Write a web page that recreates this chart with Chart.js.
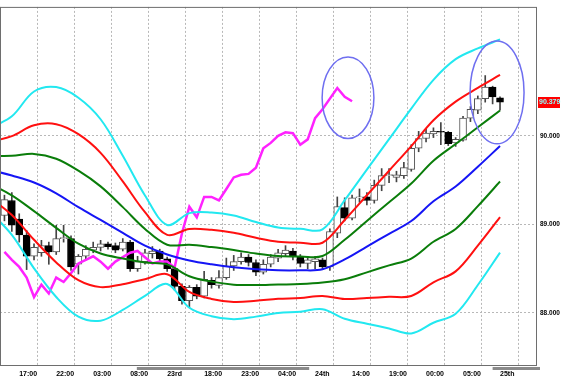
<!DOCTYPE html>
<html>
<head>
<meta charset="utf-8">
<script src="https://cdn.jsdelivr.net/npm/chart.js@4.4.0/dist/chart.umd.min.js"></script>
<style>
  html, body { margin: 0; padding: 0; background: #fff; }
  canvas { display: block; }
</style>
</head>
<body>
<canvas id="chart" width="564" height="380"></canvas>
<script>
// hourly candles, index 0 = first bar on the left
const opens = [
  89.10, 89.27, 89.06, 88.88, 88.64, 88.68, 88.76, 88.69, 88.84, 88.84,
  88.55, 88.64, 88.71, 88.74, 88.78, 88.76, 88.72, 88.80, 88.50, 88.58,
  88.67, 88.70, 88.61, 88.50, 88.30, 88.14, 88.29, 88.19, 88.37, 88.31,
  88.40, 88.53, 88.58, 88.63, 88.57, 88.46, 88.55, 88.62, 88.67, 88.70,
  88.63, 88.56, 88.58, 88.60, 88.52, 88.90, 89.19, 89.07, 89.30, 89.31,
  89.27, 89.44, 89.55, 89.53, 89.55, 89.62, 89.86, 89.97, 90.02, 90.05,
  90.04, 89.92, 89.95, 90.20, 90.29, 90.42, 90.55, 90.43
];
const highs = [
  89.33, 89.36, 89.12, 88.93, 88.78, 88.82, 88.80, 88.99, 88.99, 88.87,
  88.66, 88.76, 88.80, 88.82, 88.80, 88.79, 88.84, 88.82, 88.64, 88.72,
  88.75, 88.72, 88.63, 88.53, 88.33, 88.31, 88.32, 88.47, 88.40, 88.48,
  88.62, 88.65, 88.68, 88.66, 88.60, 88.60, 88.66, 88.72, 88.76, 88.73,
  88.66, 88.64, 88.64, 88.62, 88.95, 89.31, 89.30, 89.33, 89.40, 89.36,
  89.50, 89.63, 89.63, 89.60, 89.70, 89.90, 90.05, 90.08, 90.09, 90.15,
  90.05, 89.98, 90.22, 90.33, 90.45, 90.68, 90.56, 90.44
];
const lows = [
  89.04, 88.92, 88.80, 88.49, 88.60, 88.64, 88.55, 88.66, 88.80, 88.48,
  88.44, 88.60, 88.68, 88.70, 88.72, 88.68, 88.70, 88.47, 88.47, 88.55,
  88.62, 88.58, 88.47, 88.26, 88.10, 88.06, 88.16, 88.17, 88.28, 88.28,
  88.38, 88.48, 88.55, 88.53, 88.42, 88.44, 88.52, 88.58, 88.64, 88.60,
  88.52, 88.50, 88.50, 88.49, 88.48, 88.85, 89.04, 89.05, 89.25, 89.22,
  89.24, 89.38, 89.47, 89.48, 89.52, 89.60, 89.82, 89.93, 89.98, 89.90,
  89.89, 89.88, 89.94, 90.16, 90.25, 90.38, 90.36, 90.29
];
const closes = [
  89.28, 88.99, 88.88, 88.64, 88.74, 88.76, 88.69, 88.84, 88.85, 88.52,
  88.64, 88.72, 88.74, 88.78, 88.75, 88.71, 88.80, 88.50, 88.58, 88.68,
  88.70, 88.61, 88.50, 88.30, 88.14, 88.29, 88.19, 88.38, 88.32, 88.40,
  88.53, 88.58, 88.63, 88.57, 88.46, 88.55, 88.63, 88.68, 88.71, 88.64,
  88.56, 88.60, 88.61, 88.52, 88.92, 89.20, 89.07, 89.30, 89.31, 89.27,
  89.44, 89.55, 89.56, 89.56, 89.64, 89.86, 89.97, 90.03, 90.05, 90.04,
  89.91, 89.96, 90.20, 90.30, 90.42, 90.55, 90.44, 90.379
];

// lagging line (magenta), one value per bar starting at index 0
const lagLine = [
  88.69, 88.60, 88.52, 88.40, 88.18, 88.32, 88.22, 88.40, 88.35, 88.45,
  88.56, 88.60, 88.64, 88.58, 88.50, 88.58, 88.63, 88.68, 88.70, 88.63,
  88.56, 88.58, 88.58, 88.51, 88.90, 89.20, 89.08, 89.31, 89.31, 89.27,
  89.40, 89.53, 89.56, 89.57, 89.64, 89.86, 89.92, 90.00, 90.04, 90.03,
  89.90, 89.96, 90.20, 90.30, 90.42, 90.54, 90.44, 90.39
];

// bollinger bands, read every third bar
const bandIdx = [-2, 1, 4, 7, 10, 13, 16, 19, 22, 25, 28, 31, 34, 37, 40, 43, 46, 49, 52, 55, 58, 61, 64, 67];
const bandMid = [89.618, 89.551, 89.473, 89.351, 89.194, 89.050, 88.905, 88.760, 88.660, 88.593, 88.549, 88.515, 88.493, 88.482, 88.482, 88.493, 88.604, 88.749, 88.894, 89.038, 89.261, 89.428, 89.651, 89.885];
const bandUp1 = [89.774, 89.774, 89.796, 89.741, 89.606, 89.429, 89.195, 88.949, 88.771, 88.771, 88.744, 88.710, 88.671, 88.643, 88.638, 88.643, 88.827, 89.039, 89.250, 89.461, 89.718, 89.907, 90.096, 90.286];
const bandLo1 = [89.462, 89.328, 89.150, 88.961, 88.782, 88.671, 88.615, 88.571, 88.549, 88.415, 88.354, 88.320, 88.315, 88.321, 88.326, 88.343, 88.381, 88.459, 88.538, 88.615, 88.804, 88.949, 89.206, 89.484];
const bandUp2 = [89.930, 89.997, 90.119, 90.131, 90.018, 89.808, 89.485, 89.138, 88.882, 88.949, 88.939, 88.905, 88.849, 88.804, 88.794, 88.793, 89.050, 89.329, 89.606, 89.884, 90.175, 90.386, 90.541, 90.687];
const bandLo2 = [89.306, 89.105, 88.827, 88.571, 88.370, 88.292, 88.325, 88.382, 88.438, 88.237, 88.159, 88.125, 88.137, 88.160, 88.170, 88.193, 88.158, 88.169, 88.182, 88.192, 88.347, 88.470, 88.761, 89.083];
const bandUp3 = [90.086, 90.220, 90.500, 90.550, 90.430, 90.187, 89.775, 89.327, 88.993, 89.127, 89.134, 89.100, 89.027, 88.965, 88.950, 88.943, 89.273, 89.619, 89.962, 90.307, 90.632, 90.865, 90.986, 91.088];
const bandLo3 = [89.150, 88.882, 88.504, 88.181, 87.958, 87.913, 88.035, 88.193, 88.327, 88.059, 87.964, 87.930, 87.959, 87.999, 88.014, 88.043, 87.935, 87.879, 87.826, 87.769, 87.890, 87.991, 88.316, 88.682];

// axis labels
const tickIdx = [2, 7, 12, 17, 22, 27, 32, 37, 42, 47, 52, 57, 62, 67];
const tickLabels = ["17:00", "22:00", "03:00", "08:00", "23rd", "18:00", "23:00", "04:00", "24th", "14:00", "19:00", "00:00", "05:00", "25th"];
const priceTicks = [88, 89, 90];

// hand drawn rings and day markers (in bar / price units)
const rings = [
  { x: 46.45, y: 90.43, w: 3.5, h: 0.46 },
  { x: 66.6, y: 90.49, w: 3.65, h: 0.58 }
];
const daySpans = [[17.9, 41.2], [66.0, 72.5]];

const pts = (xs, ys) => ys.map((v, i) => ({ x: xs[i], y: v }));
const barIdx = opens.map((_, i) => i);

function band(data, color) {
  return {
    type: "line",
    data: pts(bandIdx, data),
    borderColor: color,
    borderWidth: 2,
    pointRadius: 0,
    tension: 0.35,
    order: 0
  };
}

const overlay = {
  id: "overlay",
  afterDatasetsDraw(chart) {
    const { ctx, scales: { x, y } } = chart;
    ctx.save();
    ctx.strokeStyle = "#6f6ff0";
    ctx.lineWidth = 1.5;
    rings.forEach((r) => {
      const cx = x.getPixelForValue(r.x);
      const cy = y.getPixelForValue(r.y);
      const rx = x.getPixelForValue(r.x + r.w) - cx;
      const ry = y.getPixelForValue(r.y - r.h) - cy;
      ctx.beginPath();
      ctx.ellipse(cx, cy, rx, ry, 0, 0, Math.PI * 2);
      ctx.stroke();
    });
    ctx.restore();
  },
  afterDraw(chart) {
    const { ctx, chartArea: a, scales: { x, y } } = chart;
    ctx.save();
    // frame
    ctx.strokeStyle = "#6e6e6e";
    ctx.lineWidth = 1;
    ctx.strokeRect(a.left + 0.5, a.top + 0.5, a.right - a.left - 1, a.bottom - a.top);
    // day markers under the axis
    ctx.fillStyle = "#8a8a8a";
    daySpans.forEach(([s, e]) => {
      const x1 = x.getPixelForValue(s);
      const x2 = Math.min(x.getPixelForValue(e), a.right + 3);
      ctx.fillRect(x1, a.bottom + 2, x2 - x1, 3);
    });
    // last price tag
    const last = closes[closes.length - 1];
    const py = y.getPixelForValue(last);
    ctx.fillStyle = "#ff0000";
    ctx.fillRect(a.right + 1, Math.round(py) - 5, 22, 11);
    ctx.fillStyle = "#8fffff";
    ctx.font = "bold 7px 'Liberation Sans'";
    ctx.textBaseline = "middle";
    ctx.textAlign = "left";
    ctx.fillText(last.toFixed(3), a.right + 2, Math.round(py) + 0.5);
    ctx.restore();
  }
};

new Chart(document.getElementById("chart"), {
  type: "bar",
  data: {
    datasets: [
      band(bandUp3, "#22e8f0"),
      band(bandLo3, "#22e8f0"),
      band(bandUp2, "#ff1010"),
      band(bandLo2, "#ff1010"),
      band(bandUp1, "#0a7d0a"),
      band(bandLo1, "#0a7d0a"),
      band(bandMid, "#1515f5"),
      {
        type: "line",
        data: pts(barIdx, lagLine),
        borderColor: "#ff22ff",
        borderWidth: 2.5,
        pointRadius: 0,
        tension: 0,
        order: 0
      },
      {
        // candle bodies
        data: barIdx.map((i) => ({ x: i, y: [opens[i], closes[i]] })),
        backgroundColor: (c) => (closes[c.dataIndex] >= opens[c.dataIndex] ? "#ffffff" : "#000000"),
        borderColor: (c) => (closes[c.dataIndex] >= opens[c.dataIndex] ? "#555555" : "#000000"),
        borderWidth: 1,
        borderSkipped: false,
        barThickness: 7,
        minBarLength: 1,
        grouped: false,
        order: 1
      },
      {
        // wicks
        data: barIdx.map((i) => ({ x: i, y: [lows[i], highs[i]] })),
        backgroundColor: "#444444",
        borderWidth: 0,
        barThickness: 1,
        grouped: false,
        order: 2
      }
    ]
  },
  options: {
    responsive: false,
    animation: false,
    devicePixelRatio: 1,
    layout: { padding: { top: 2, left: 0, right: 0, bottom: 0 } },
    plugins: { legend: { display: false }, tooltip: { enabled: false } },
    scales: {
      x: {
        type: "linear",
        min: -0.6,
        max: 72.0,
        offset: false,
        afterBuildTicks: (s) => { s.ticks = tickIdx.map((v) => ({ value: v })); },
        afterFit: (s) => { s.height = 15; },
        ticks: {
          autoSkip: false,
          maxRotation: 0,
          align: "start",
          padding: 5,
          color: "#000",
          font: { family: "Liberation Sans", size: 7, weight: "bold" },
          callback: (v, i) => tickLabels[i]
        },
        grid: { color: "#b8b8b8", drawTicks: false, lineWidth: 1 },
        border: { display: false, dash: [2, 2] }
      },
      y: {
        type: "linear",
        position: "right",
        min: 87.413,
        max: 91.455,
        afterBuildTicks: (s) => { s.ticks = priceTicks.map((v) => ({ value: v })); },
        afterFit: (s) => { s.width = 27; },
        ticks: {
          padding: 3,
          color: "#000",
          font: { family: "Liberation Sans", size: 6.5, weight: "bold" },
          callback: (v) => v.toFixed(3)
        },
        grid: { color: "#b8b8b8", drawTicks: false, lineWidth: 1 },
        border: { display: false, dash: [2, 2] }
      }
    }
  },
  plugins: [overlay]
});
</script>
</body>
</html>
